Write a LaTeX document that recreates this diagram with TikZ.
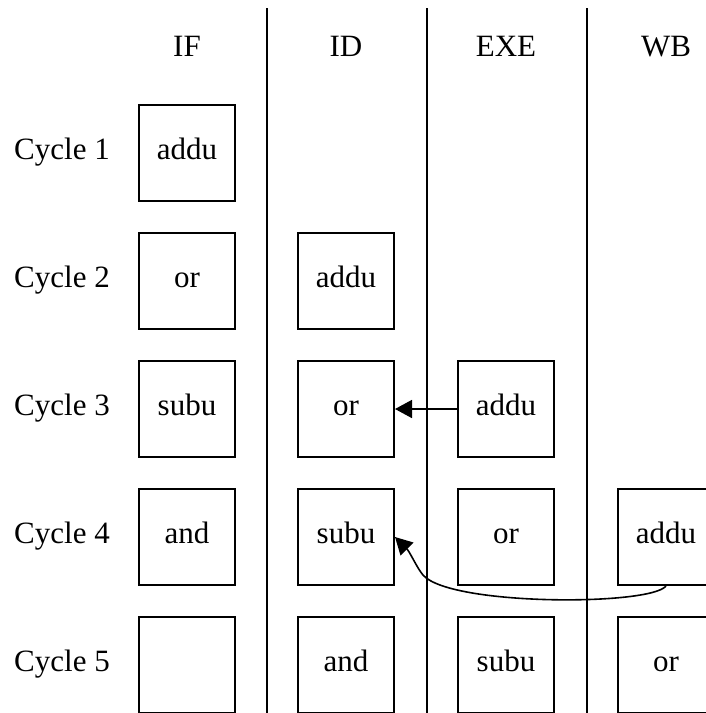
\documentclass[tikz,border=0pt]{standalone}
\usepackage{fontspec}
\setmainfont{Liberation Serif}
\newfontfamily\timesfont{Liberation Serif}
\usetikzlibrary{arrows.meta}
\newcommand{\pipefont}{\timesfont\fontsize{15.5}{18}\selectfont}
\tikzset{
  lbl/.style = {inner sep=0pt, text height=0.8em, text depth=0.2em,
    font=\pipefont},
  stage/.style = {lbl, draw=black, line width=1pt, minimum size=48pt,
    text centered},
  fwd/.style = {-{Triangle[length=8.5pt,width=9pt]}, line width=0.8pt}
}

\begin{document}
\begin{tikzpicture}[x=0.5pt, y=-0.5pt]
\useasboundingbox (0,0) rectangle (706,713);
% stage separators
\foreach \x in {267,427,587}
  \draw[line width=1pt] (\x,8) -- (\x,713);
% headings
\node[lbl] (hif) at (187,50) {IF};
\node[lbl] (hid) at (346,50) {ID};
\node[lbl] (hexe) at (506,50) {EXE};
\node[lbl] (hwb) at (666,50) {WB};
\foreach \r in {1,...,5}
  \node[lbl] (cyc\r) at (62,{153+128*(\r-1)}) {Cycle \r};
% pipeline contents
\foreach \r/\txt in {1/addu,2/or,3/subu,4/and,5/{}}
  \node[stage] (if\r) at (187,{153+128*(\r-1)}) {\txt};
\foreach \r/\txt in {2/addu,3/or,4/subu,5/and}
  \node[stage] (id\r) at (346,{153+128*(\r-1)}) {\txt};
\foreach \r/\txt in {3/addu,4/or,5/subu}
  \node[stage] (exe\r) at (506,{153+128*(\r-1)}) {\txt};
\foreach \r/\txt in {4/addu,5/or}
  \node[stage] (wb\r) at (666,{153+128*(\r-1)}) {\txt};
% forwarding
\draw[fwd] (exe3.west) -- (id3.east);
\draw[fwd] (wb4.south) .. controls (650,606) and (450,606) .. (423,575)
  .. controls (417,568) and (410,552) .. (id4.east);
\end{tikzpicture}
\end{document}
